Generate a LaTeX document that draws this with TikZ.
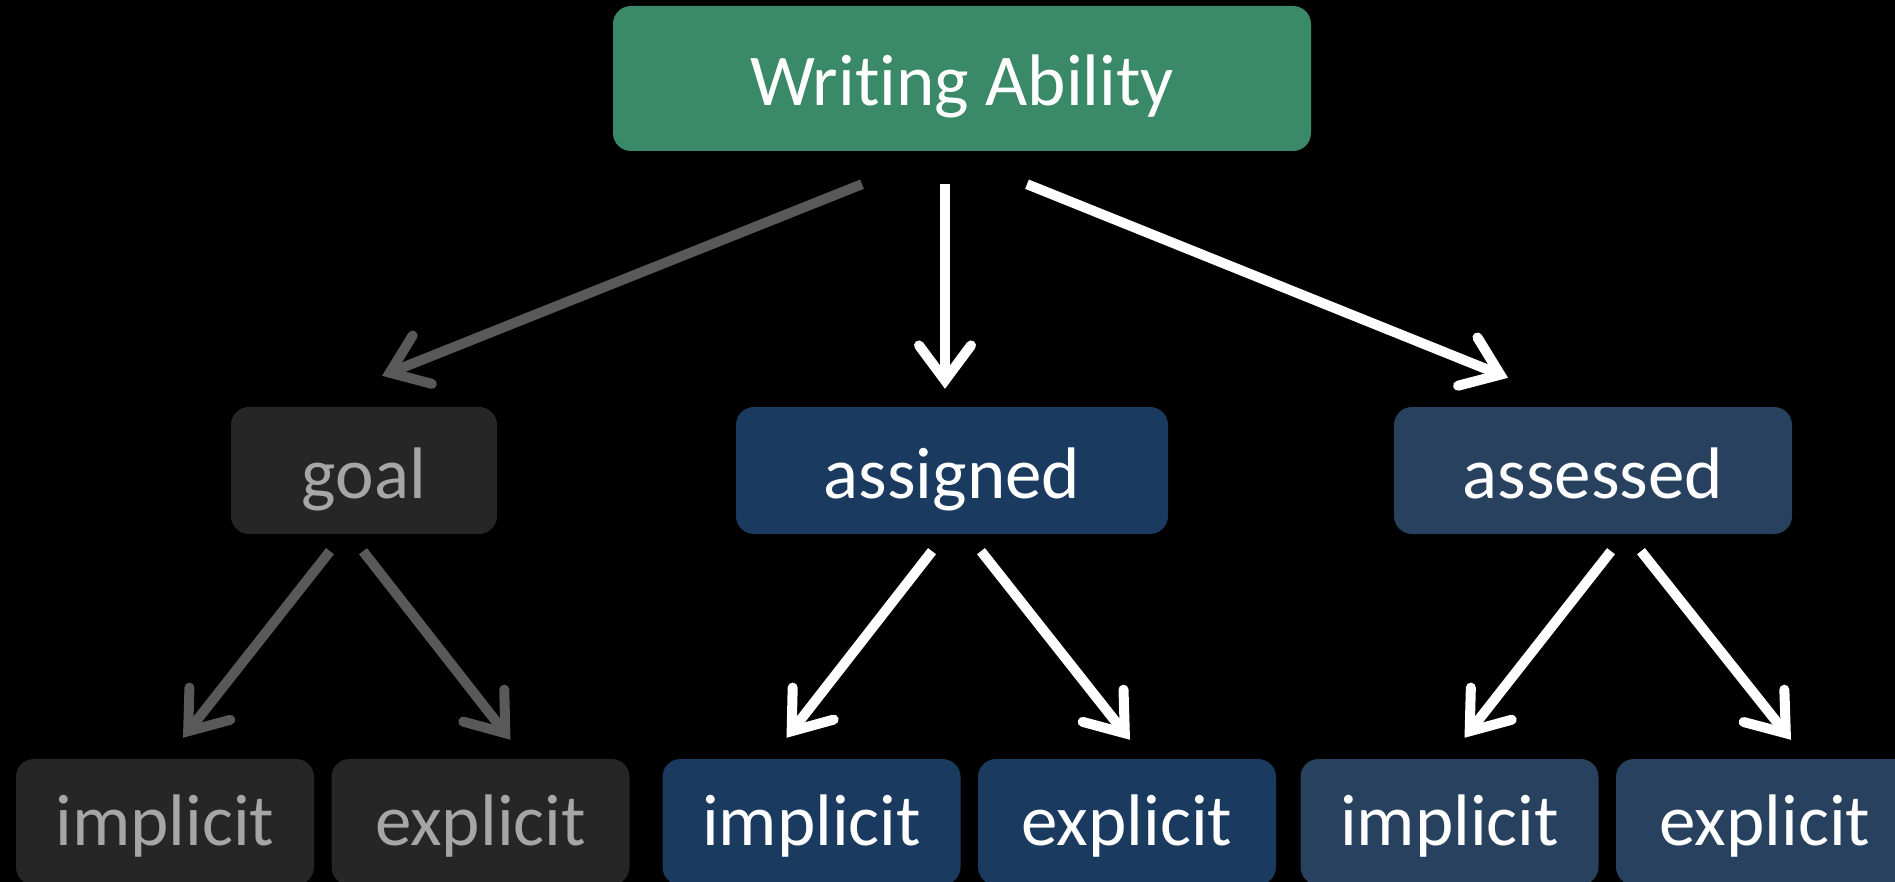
\documentclass[tikz,border=0pt]{standalone}
\usepackage{fontspec}
\setmainfont[Ligatures=NoCommon]{Carlito}
\usetikzlibrary{arrows.meta,calc}
\definecolor{topgreen}{HTML}{3A8A6A}
\definecolor{goalgray}{HTML}{262626}
\definecolor{goaltext}{HTML}{A6A6A6}
\definecolor{goalarrow}{HTML}{595959}
\definecolor{assignblue}{HTML}{1B3A5F}
\definecolor{assessblue}{HTML}{27415F}
\tikzset{
  box/.style={rectangle, rounded corners=18pt, inner sep=0pt, font=\fontsize{73}{80}\selectfont, text height=55pt, text depth=0pt},
  greenbox/.style={box, fill=topgreen, text=white, minimum width=698pt, minimum height=145pt},
  midbox/.style={box, minimum height=127pt},
  lowbox/.style={box, minimum width=298pt, minimum height=126pt, text height=46pt},
  goalbox/.style={fill=goalgray, text=goaltext},
  assignbox/.style={fill=assignblue, text=white},
  assessbox/.style={fill=assessblue, text=white},
  arr/.style={line width=10pt, -{Straight Barb[length=35pt,width=52pt,line width=10pt,line cap=round,line join=miter]}},
  grayarr/.style={arr, draw=goalarrow},
  whitearr/.style={arr, draw=white},
}
\begin{document}
\begin{tikzpicture}[x=1pt,y=1pt]
\fill[black] (0,0) rectangle (1895,-882);
\useasboundingbox (0,0) rectangle (1895,-882);
\clip (0,0) rectangle (1895,-882);

\node[greenbox] (top) at (962,-78.5) {Writ\kern0pt ing Ability};

\node[midbox, goalbox, minimum width=266pt] (goal) at (364,-470.5) {goal};
\node[midbox, assignbox, minimum width=432pt] (assigned) at (952,-470.5) {assigned};
\node[midbox, assessbox, minimum width=398pt] (assessed) at (1593,-470.5) {assessed};

\node[lowbox, goalbox] (gi) at (165,-822) {implicit};
\node[lowbox, goalbox] (ge) at (480.5,-822) {explicit};
\node[lowbox, assignbox] (ai) at (811.5,-822) {implicit};
\node[lowbox, assignbox] (ae) at (1127,-822) {explicit};
\node[lowbox, assessbox] (si) at (1449.5,-822) {implicit};
\node[lowbox, assessbox] (se) at (1765,-822) {explicit};

% top level arrows
\draw[grayarr] ($(top.south)+(-100,-33)$) -- ($(goal.north)+(18,31)$);
\draw[whitearr] ($(top.south)+(-17,-33)$) -- ($(assigned.north)+(-7,18)$);
\draw[whitearr] ($(top.south)+(65,-33)$) -- ($(assessed.north)+(-85,29)$);

% second level arrows
\draw[grayarr] ($(goal.south)+(-34,-17)$) -- ($(gi.north)+(18,21)$);
\draw[grayarr] ($(goal.south)+(-1,-17)$) -- ($(ge.north)+(30,19)$);
\draw[whitearr] ($(assigned.south)+(-20,-17)$) -- ($(ai.north)+(-25,21)$);
\draw[whitearr] ($(assigned.south)+(29,-17)$) -- ($(ae.north)+(3,19)$);
\draw[whitearr] ($(assessed.south)+(18,-17)$) -- ($(si.north)+(15,21)$);
\draw[whitearr] ($(assessed.south)+(48,-17)$) -- ($(se.north)+(26,19)$);
\end{tikzpicture}
\end{document}
